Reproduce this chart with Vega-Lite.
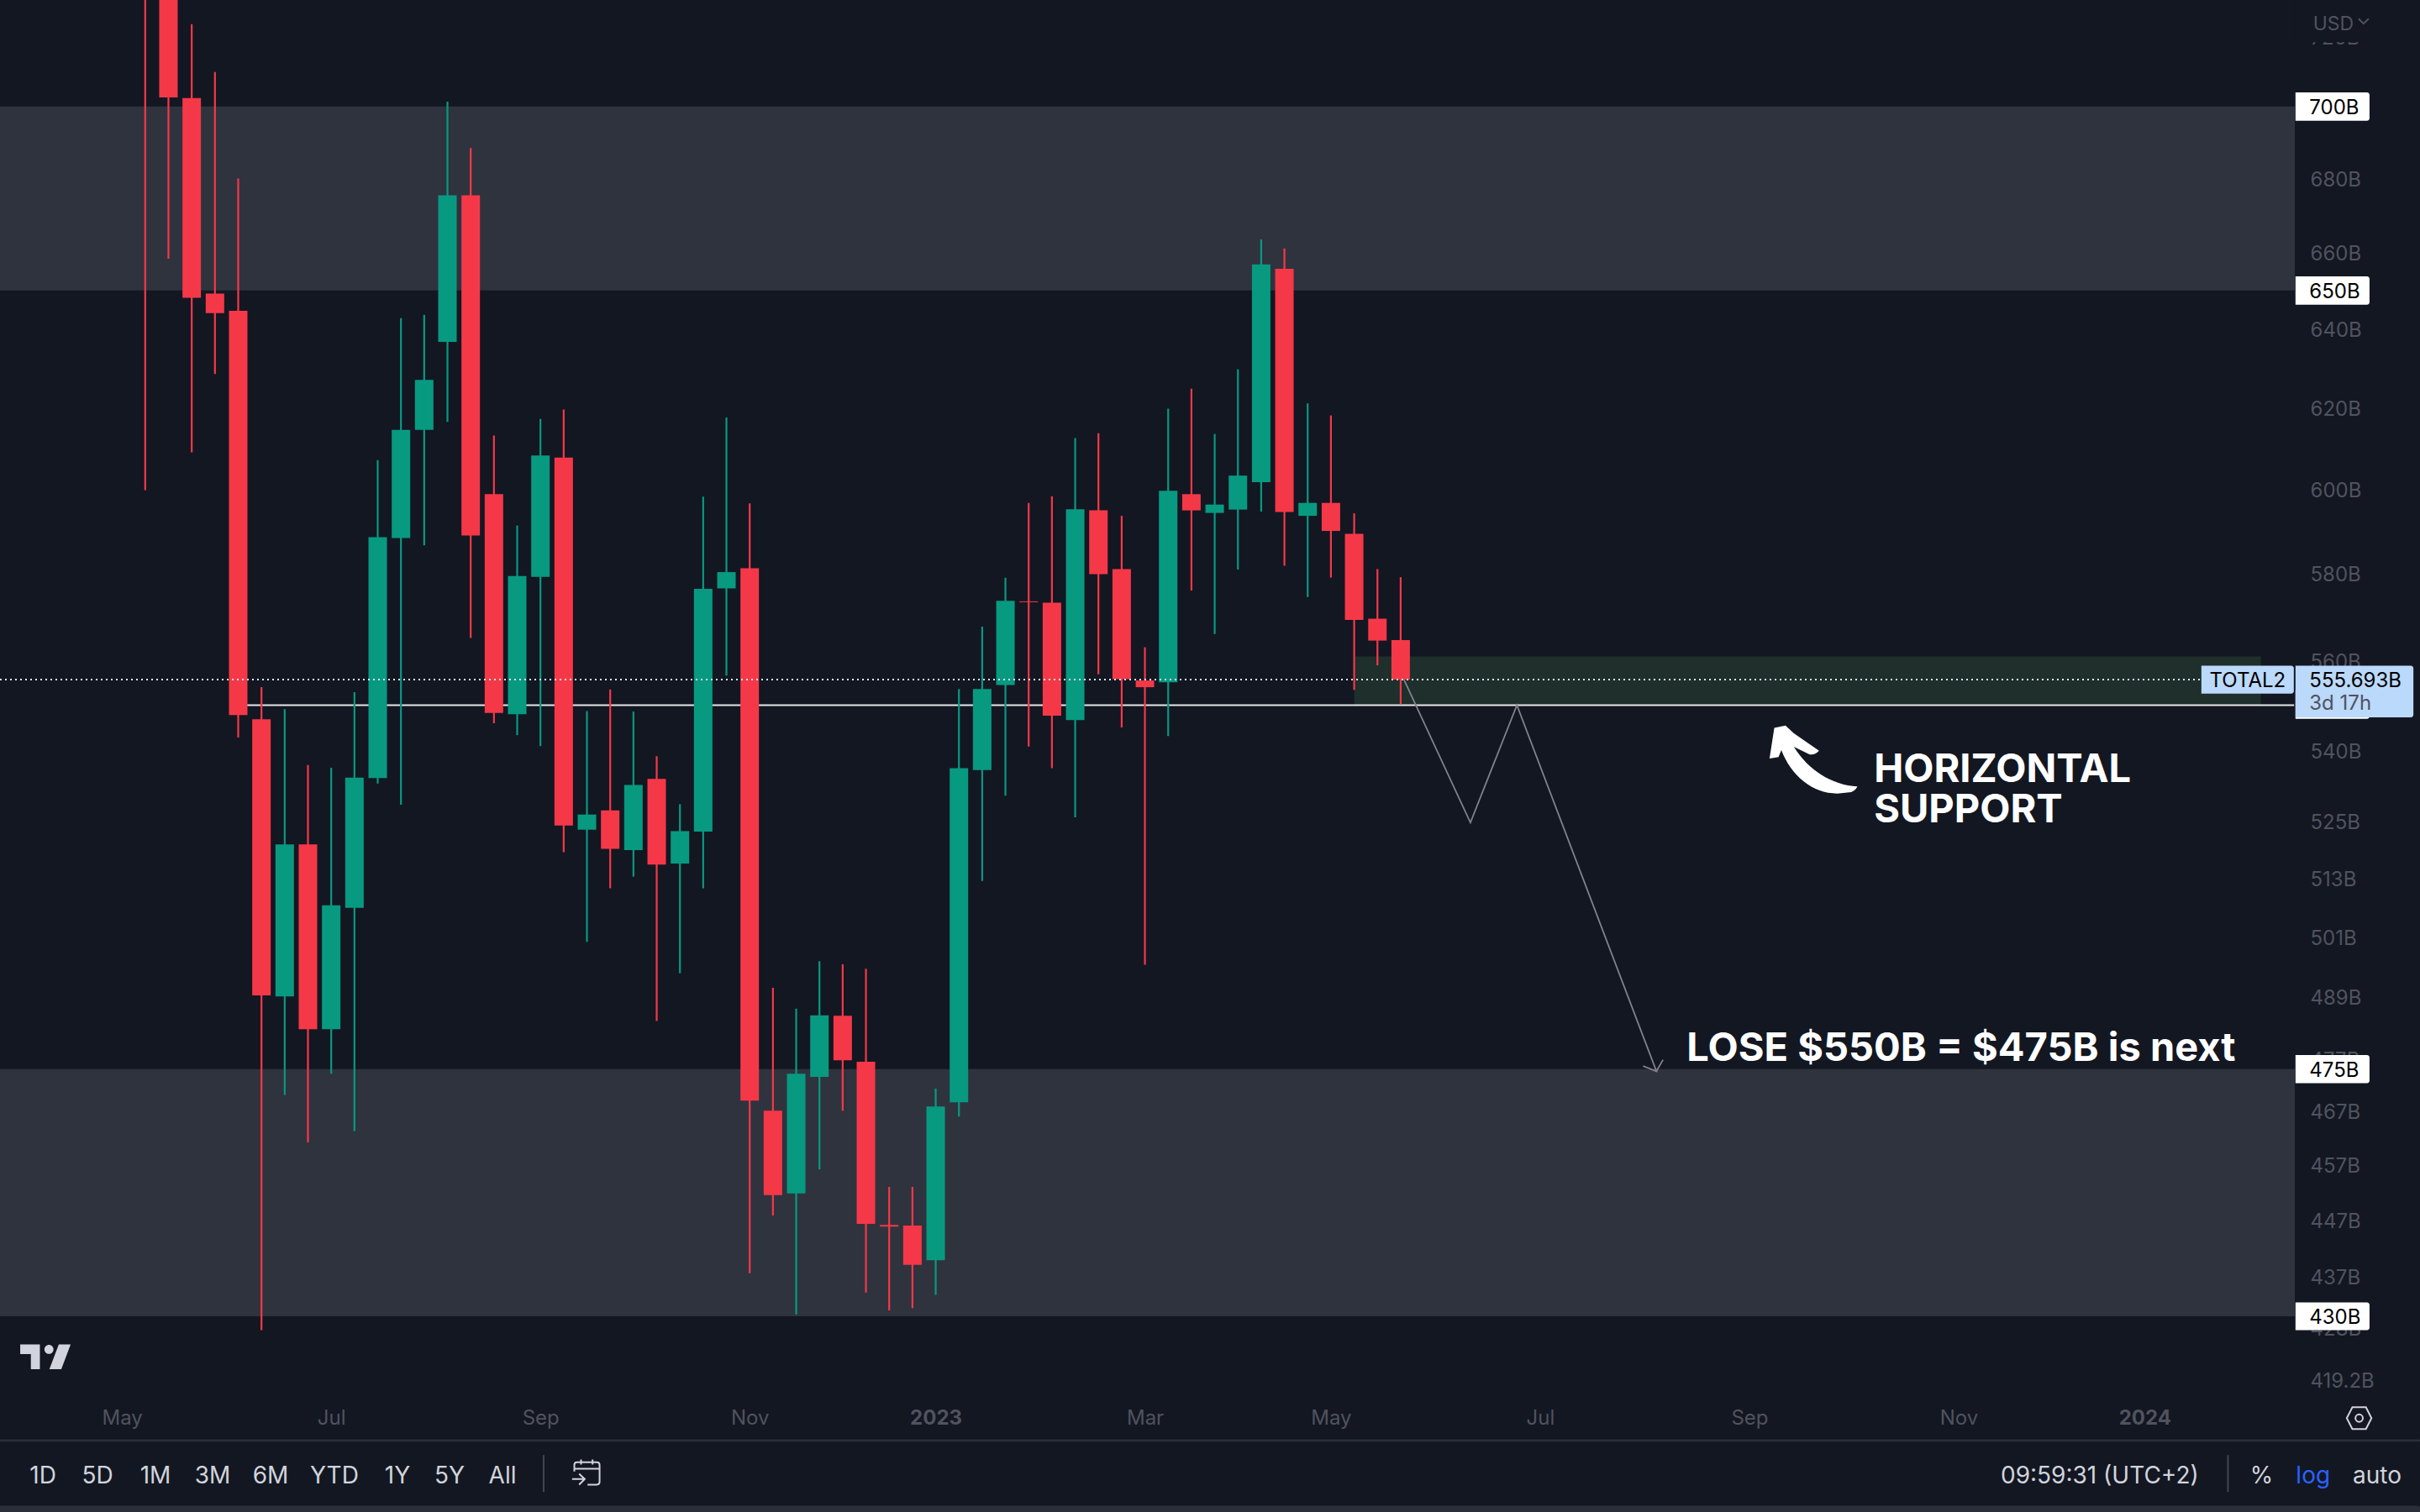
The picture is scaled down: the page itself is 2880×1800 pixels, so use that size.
{
  "$schema": "https://vega.github.io/schema/vega-lite/v6.json",
  "width": 2731,
  "height": 1665,
  "autosize": {"type": "none"},
  "padding": {"left": 0, "top": 0, "right": 149, "bottom": 135},
  "background": "#131722",
  "view": {"stroke": null},
  "config": {
    "axisY": {
      "orient": "right",
      "labelColor": "#50535e",
      "labelFont": "Inter",
      "labelFontSize": 24,
      "labelAlign": "left",
      "labelPadding": 18,
      "labelOffset": 2,
      "labelOverlap": false,
      "labelFlush": false,
      "labelBound": false,
      "grid": false,
      "domain": false,
      "ticks": false
    }
  },
  "datasets": {
    "candles": [
      {"date": "2022-05-09", "kind": "down", "open": 790, "high": 810, "low": 599.8, "close": 745},
      {"date": "2022-05-16", "kind": "down", "open": 745, "high": 760, "low": 658.4, "close": 702.6},
      {"date": "2022-05-23", "kind": "down", "open": 702.4, "high": 723.6, "low": 609, "close": 648.1},
      {"date": "2022-05-30", "kind": "down", "open": 649.2, "high": 709.8, "low": 628.5, "close": 644.1},
      {"date": "2022-06-06", "kind": "down", "open": 644.7, "high": 680, "low": 542.9, "close": 547.8},
      {"date": "2022-06-13", "kind": "down", "open": 546.9, "high": 554, "low": 427.6, "close": 489.3},
      {"date": "2022-06-20", "kind": "up", "open": 489.1, "high": 549.1, "low": 470.1, "close": 520},
      {"date": "2022-06-27", "kind": "down", "open": 520, "high": 536.9, "low": 461.2, "close": 482.7},
      {"date": "2022-07-04", "kind": "up", "open": 482.7, "high": 536.3, "low": 474.1, "close": 507.4},
      {"date": "2022-07-11", "kind": "up", "open": 506.9, "high": 552.9, "low": 463.3, "close": 534.2},
      {"date": "2022-07-18", "kind": "up", "open": 534.1, "high": 607.1, "low": 532.9, "close": 588.5},
      {"date": "2022-07-25", "kind": "up", "open": 588.3, "high": 642.8, "low": 528.4, "close": 614.5},
      {"date": "2022-08-01", "kind": "up", "open": 614.5, "high": 643.7, "low": 586.6, "close": 627},
      {"date": "2022-08-08", "kind": "up", "open": 636.7, "high": 701.4, "low": 616.5, "close": 675.4},
      {"date": "2022-08-15", "kind": "down", "open": 675.4, "high": 688.4, "low": 565.1, "close": 588.9},
      {"date": "2022-08-22", "kind": "down", "open": 598.8, "high": 613.1, "low": 546, "close": 548.3},
      {"date": "2022-08-29", "kind": "up", "open": 548, "high": 591.3, "low": 543.4, "close": 579.4},
      {"date": "2022-09-05", "kind": "up", "open": 579.2, "high": 617.2, "low": 541, "close": 608.2},
      {"date": "2022-09-12", "kind": "down", "open": 607.7, "high": 619.6, "low": 518.4, "close": 524},
      {"date": "2022-09-19", "kind": "up", "open": 523.1, "high": 548.7, "low": 500, "close": 526.3},
      {"date": "2022-09-26", "kind": "down", "open": 527.2, "high": 553.5, "low": 510.9, "close": 519.1},
      {"date": "2022-10-03", "kind": "up", "open": 518.8, "high": 548.6, "low": 513.3, "close": 532.6},
      {"date": "2022-10-10", "kind": "down", "open": 533.9, "high": 538.8, "low": 484.3, "close": 515.8},
      {"date": "2022-10-17", "kind": "up", "open": 516, "high": 528.5, "low": 493.7, "close": 522.8},
      {"date": "2022-10-24", "kind": "up", "open": 522.7, "high": 598.2, "low": 510.9, "close": 576.4},
      {"date": "2022-10-31", "kind": "up", "open": 576.5, "high": 617.6, "low": 556.6, "close": 580.3},
      {"date": "2022-11-07", "kind": "down", "open": 581.2, "high": 596.6, "low": 437.5, "close": 469},
      {"date": "2022-11-14", "kind": "down", "open": 467.1, "high": 490.8, "low": 447.8, "close": 451.5},
      {"date": "2022-11-21", "kind": "up", "open": 451.8, "high": 486.7, "low": 430.3, "close": 474.1},
      {"date": "2022-11-28", "kind": "up", "open": 473.5, "high": 496.1, "low": 456.2, "close": 485.4},
      {"date": "2022-12-05", "kind": "down", "open": 485.3, "high": 495.5, "low": 467.1, "close": 476.7},
      {"date": "2022-12-12", "kind": "down", "open": 476.4, "high": 494.6, "low": 434.1, "close": 446.3},
      {"date": "2022-12-19", "kind": "down", "open": 446.1, "high": 453, "low": 431, "close": 445.8},
      {"date": "2022-12-26", "kind": "down", "open": 446, "high": 453, "low": 431.4, "close": 439},
      {"date": "2023-01-02", "kind": "up", "open": 439.8, "high": 471.3, "low": 433.7, "close": 467.9},
      {"date": "2023-01-09", "kind": "up", "open": 468.7, "high": 553.6, "low": 466, "close": 536.2},
      {"date": "2023-01-16", "kind": "up", "open": 535.8, "high": 567.7, "low": 512.4, "close": 553.6},
      {"date": "2023-01-23", "kind": "up", "open": 554.5, "high": 579, "low": 530.3, "close": 573.6},
      {"date": "2023-01-30", "kind": "down", "open": 573.5, "high": 596.7, "low": 540.9, "close": 573.3},
      {"date": "2023-02-06", "kind": "down", "open": 573.2, "high": 598.3, "low": 536.2, "close": 547.7},
      {"date": "2023-02-13", "kind": "up", "open": 546.7, "high": 612.5, "low": 525.7, "close": 595.2},
      {"date": "2023-02-20", "kind": "down", "open": 594.9, "high": 613.7, "low": 556.9, "close": 579.8},
      {"date": "2023-02-27", "kind": "down", "open": 581, "high": 593.6, "low": 545.1, "close": 555.8},
      {"date": "2023-03-06", "kind": "down", "open": 555.5, "high": 563, "low": 495.4, "close": 554},
      {"date": "2023-03-13", "kind": "up", "open": 555.1, "high": 619.8, "low": 543.2, "close": 599.6},
      {"date": "2023-03-20", "kind": "down", "open": 598.8, "high": 624.8, "low": 576, "close": 594.9},
      {"date": "2023-03-27", "kind": "up", "open": 594.3, "high": 613.5, "low": 566, "close": 596.3},
      {"date": "2023-04-03", "kind": "up", "open": 595.1, "high": 629.7, "low": 580.9, "close": 603.3},
      {"date": "2023-04-10", "kind": "up", "open": 601.7, "high": 663.5, "low": 594.6, "close": 656.9},
      {"date": "2023-04-17", "kind": "down", "open": 655.7, "high": 661.1, "low": 581.8, "close": 594.5},
      {"date": "2023-04-24", "kind": "up", "open": 593.6, "high": 621.1, "low": 574.5, "close": 596.7},
      {"date": "2023-05-01", "kind": "down", "open": 596.7, "high": 618.1, "low": 579, "close": 590},
      {"date": "2023-05-08", "kind": "down", "open": 589.3, "high": 594.2, "low": 553.4, "close": 569.2},
      {"date": "2023-05-15", "kind": "down", "open": 569.5, "high": 581, "low": 558.9, "close": 564.5},
      {"date": "2023-05-22", "kind": "down", "open": 564.6, "high": 579.1, "low": 550.2, "close": 555.693}
    ],
    "zones": [
      {"kind": "zone", "date": "2022-03-26T06:43:00Z", "date2": "2024-02-15T05:00:00Z", "price": 700, "price2": 650},
      {"kind": "zone", "date": "2022-03-26T06:43:00Z", "date2": "2024-02-15T05:00:00Z", "price": 475, "price2": 430},
      {"kind": "demand", "date": "2023-05-08", "date2": "2024-02-05", "price": 560.9, "price2": 550}
    ],
    "path": [
      {"i": 1, "kind": "path", "date": "2023-05-23", "price": 555.693},
      {"i": 2, "kind": "path", "date": "2023-06-12", "price": 524.6},
      {"i": 3, "kind": "path", "date": "2023-06-26", "price": 550},
      {"i": 4, "kind": "path", "date": "2023-08-07", "price": 474.6},
      {"i": 5, "kind": "path", "date": "2023-08-03", "price": 475.6},
      {"i": 6, "kind": "path", "date": "2023-08-07", "price": 474.6},
      {"i": 7, "kind": "path", "date": "2023-08-09", "price": 476.8}
    ],
    "panels": [
      {"kind": "bg", "date": "2024-02-15T10:00:00Z", "date2": "2024-03-24", "price": 735, "price2": 718.4},
      {"kind": "box", "date": "2024-02-15T10:00:00Z", "date2": "2024-03-08T17:00:00Z", "price": 704, "price2": 696},
      {"kind": "box", "date": "2024-02-15T10:00:00Z", "date2": "2024-03-08T17:00:00Z", "price": 653.7, "price2": 646.3},
      {"kind": "box", "date": "2024-02-15T10:00:00Z", "date2": "2024-03-08T17:00:00Z", "price": 477.7, "price2": 472.3},
      {"kind": "box", "date": "2024-02-15T10:00:00Z", "date2": "2024-03-08T17:00:00Z", "price": 432.4, "price2": 427.6},
      {"kind": "box", "date": "2024-02-15T10:00:00Z", "date2": "2024-03-08T17:00:00Z", "price": 553.3, "price2": 547},
      {"kind": "tag", "date": "2024-02-15T10:00:00Z", "date2": "2024-03-21T22:00:00Z", "price": 558.8, "price2": 547.3},
      {"kind": "tag", "date": "2024-01-18T02:00:00Z", "date2": "2024-02-14T22:00:00Z", "price": 558.8, "price2": 552.55},
      {"kind": "strip", "date": "2022-03-26T06:43:00Z", "date2": "2024-03-24", "price": 409.2, "price2": 408.8},
      {"kind": "strip", "date": "2022-03-26T06:43:00Z", "date2": "2024-03-24", "price": 398.4, "price2": 396}
    ],
    "dividers": [
      {"kind": "divider", "date": "2022-09-05T23:00:00Z", "price": 406.6, "price2": 400.6},
      {"kind": "divider", "date": "2024-01-26T02:00:00Z", "price": 406.6, "price2": 400.6}
    ],
    "labels": [
      {"style": "toolbar", "kind": "ui", "text": "1D", "date": "2022-04-08T05:00:00Z", "price": 403.5},
      {"style": "toolbar", "kind": "ui", "text": "5D", "date": "2022-04-24T15:00:00Z", "price": 403.5},
      {"style": "toolbar", "kind": "ui", "text": "1M", "date": "2022-05-12T02:00:00Z", "price": 403.5},
      {"style": "toolbar", "kind": "ui", "text": "3M", "date": "2022-05-29T07:00:00Z", "price": 403.5},
      {"style": "toolbar", "kind": "ui", "text": "6M", "date": "2022-06-15T18:00:00Z", "price": 403.5},
      {"style": "toolbar", "kind": "ui", "text": "YTD", "date": "2022-07-04T23:00:00Z", "price": 403.5},
      {"style": "toolbar", "kind": "ui", "text": "1Y", "date": "2022-07-23T23:00:00Z", "price": 403.5},
      {"style": "toolbar", "kind": "ui", "text": "5Y", "date": "2022-08-08T15:00:00Z", "price": 403.5},
      {"style": "toolbar", "kind": "ui", "text": "All", "date": "2022-08-24T14:00:00Z", "price": 403.5},
      {"style": "toolbar", "kind": "ui", "text": "%", "date": "2024-02-05T05:00:00Z", "price": 403.5},
      {"style": "toolbar", "kind": "accent", "text": "log", "date": "2024-02-20T17:00:00Z", "price": 403.5},
      {"style": "toolbar", "kind": "ui", "text": "auto", "date": "2024-03-11", "price": 403.5},
      {"style": "time", "kind": "ui", "text": "09:59:31 (UTC+2)", "date": "2024-01-17T07:00:00Z", "price": 403.5},
      {"style": "usd", "kind": "muted", "text": "USD", "date": "2024-02-20T17:00:00Z", "price": 724},
      {"style": "tag", "kind": "ink", "text": "700B", "date": "2024-02-19T14:00:00Z", "price": 700},
      {"style": "tag", "kind": "ink", "text": "650B", "date": "2024-02-19T14:00:00Z", "price": 650},
      {"style": "tag", "kind": "ink", "text": "475B", "date": "2024-02-19T14:00:00Z", "price": 475},
      {"style": "tag", "kind": "ink", "text": "430B", "date": "2024-02-19T14:00:00Z", "price": 430},
      {"style": "tag", "kind": "ink", "text": "555.693B", "date": "2024-02-19T14:00:00Z", "price": 555.693},
      {"style": "tag", "kind": "muted", "text": "3d 17h", "date": "2024-02-19T14:00:00Z", "price": 550.6},
      {"style": "symbol", "kind": "ink", "text": "TOTAL2", "date": "2024-02-01", "price": 555.693},
      {"style": "note", "kind": "white", "text": "HORIZONTAL", "date": "2023-10-11T12:00:00Z", "price": 535.8},
      {"style": "note", "kind": "white", "text": "SUPPORT", "date": "2023-10-11T12:00:00Z", "price": 527.1},
      {"style": "note", "kind": "white", "text": "LOSE $550B = $475B is next", "date": "2023-08-16T03:00:00Z", "price": 478.9}
    ]
  },
  "encoding": {
    "x": {
      "field": "date",
      "type": "temporal",
      "title": null,
      "scale": {"type": "utc", "domain": ["2022-03-26T06:43:00Z", "2024-02-15T05:00:00Z"], "nice": false, "padding": 0},
      "axis": {
        "orient": "bottom",
        "values": ["2022-05-02", "2022-07-04", "2022-09-05", "2022-11-07", "2023-01-02", "2023-03-06", "2023-05-01", "2023-07-03", "2023-09-04", "2023-11-06", "2024-01-01"],
        "labelExpr": "utcmonth(datum.value) == 0 ? utcFormat(datum.value, '%Y') : utcFormat(datum.value, '%b')",
        "labelFontWeight": {"condition": {"test": "utcmonth(datum.value) == 0", "value": "bold"}, "value": "normal"},
        "labelColor": "#50535e",
        "labelFont": "Inter",
        "labelFontSize": 24,
        "labelBaseline": "middle",
        "labelPadding": 23,
        "labelOverlap": false,
        "labelFlush": false,
        "labelBound": false,
        "grid": false,
        "domain": false,
        "ticks": false
      }
    },
    "y": {
      "field": "price",
      "type": "quantitative",
      "title": null,
      "scale": {"type": "log", "domain": [415.96, 730.7], "nice": false},
      "axis": {
        "values": [720, 680, 660, 640, 620, 600, 580, 560, 540, 525, 513, 501, 489, 477, 467, 457, 447, 437, 428, 419.2],
        "labelExpr": "datum.value + 'B'"
      }
    },
    "color": {
      "field": "kind",
      "type": "nominal",
      "legend": null,
      "scale": {
        "domain": ["up", "down", "zone", "demand", "support", "spot", "path", "bg", "box", "tag", "strip", "divider", "ui", "accent", "muted", "ink", "white"],
        "range": ["#089981", "#f53848", "#2f333e", "#1e2f2c", "#e6e7ea", "#dbe9fb", "#80838c", "#131722", "#ffffff", "#bbd9fb", "#2a2e39", "#434651", "#d1d4dc", "#2962ff", "#50535e", "#000000", "#ffffff"]
      }
    }
  },
  "layer": [
    {
      "data": {"name": "zones", "format": {"parse": {"date2": "date"}}},
      "mark": {"type": "rect"},
      "encoding": {"x2": {"field": "date2"}, "y2": {"field": "price2"}}
    },
    {
      "data": {"values": [{"kind": "support", "date": "2022-06-06", "date2": "2024-02-15", "price": 550}], "format": {"parse": {"date2": "date"}}},
      "mark": {"type": "rule", "strokeWidth": 2},
      "encoding": {"x2": {"field": "date2"}}
    },
    {
      "data": {"name": "candles"},
      "mark": {"type": "rule", "strokeWidth": 2.2},
      "encoding": {
        "y": {
          "field": "low", "type": "quantitative", "title": null,
          "scale": {"type": "log", "domain": [415.96, 730.7], "nice": false},
          "axis": {"values": [720, 680, 660, 640, 620, 600, 580, 560, 540, 525, 513, 501, 489, 477, 467, 457, 447, 437, 428, 419.2], "labelExpr": "datum.value + 'B'"}
        },
        "y2": {"field": "high"}
      }
    },
    {
      "data": {"name": "candles"},
      "mark": {"type": "bar", "size": 22},
      "encoding": {
        "y": {
          "field": "open", "type": "quantitative", "title": null,
          "scale": {"type": "log", "domain": [415.96, 730.7], "nice": false},
          "axis": {"values": [720, 680, 660, 640, 620, 600, 580, 560, 540, 525, 513, 501, 489, 477, 467, 457, 447, 437, 428, 419.2], "labelExpr": "datum.value + 'B'"}
        },
        "y2": {"field": "close"}
      }
    },
    {
      "data": {"values": [{"kind": "spot", "date": "2022-03-26T06:43:00Z", "date2": "2024-01-18T02:00:00Z", "price": 555.693}], "format": {"parse": {"date2": "date"}}},
      "mark": {"type": "rule", "strokeWidth": 2, "strokeDash": [2, 4]},
      "encoding": {"x2": {"field": "date2"}}
    },
    {
      "data": {"name": "path"},
      "mark": {"type": "line", "strokeWidth": 1.8},
      "encoding": {"order": {"field": "i"}}
    },
    {
      "data": {"name": "panels", "format": {"parse": {"date2": "date"}}},
      "mark": {"type": "rect", "cornerRadiusTopRight": 3, "cornerRadiusBottomRight": 3},
      "encoding": {"x2": {"field": "date2"}, "y2": {"field": "price2"}}
    },
    {
      "data": {"name": "dividers"},
      "mark": {"type": "rule", "strokeWidth": 2},
      "encoding": {"y2": {"field": "price2"}}
    },
    {
      "data": {"name": "labels"},
      "transform": [{"filter": "datum.style == 'toolbar'"}],
      "mark": {"type": "text", "font": "Inter", "fontSize": 28, "align": "center", "baseline": "middle", "dy": 3},
      "encoding": {"text": {"field": "text"}}
    },
    {
      "data": {"name": "labels"},
      "transform": [{"filter": "datum.style == 'time'"}],
      "mark": {"type": "text", "font": "Inter", "fontSize": 28, "align": "right", "baseline": "middle", "dy": 3},
      "encoding": {"text": {"field": "text"}}
    },
    {
      "data": {"name": "labels"},
      "transform": [{"filter": "datum.style == 'usd'"}],
      "mark": {"type": "text", "font": "Inter", "fontSize": 23, "align": "left", "baseline": "middle", "dy": 2},
      "encoding": {"text": {"field": "text"}}
    },
    {
      "data": {"name": "labels"},
      "transform": [{"filter": "datum.style == 'tag'"}],
      "mark": {"type": "text", "font": "Inter", "fontSize": 24, "align": "left", "baseline": "middle", "dy": 2},
      "encoding": {"text": {"field": "text"}}
    },
    {
      "data": {"name": "labels"},
      "transform": [{"filter": "datum.style == 'symbol'"}],
      "mark": {"type": "text", "font": "Inter", "fontSize": 24, "align": "center", "baseline": "middle", "dy": 2},
      "encoding": {"text": {"field": "text"}}
    },
    {
      "data": {"name": "labels"},
      "transform": [{"filter": "datum.style == 'note'"}],
      "mark": {"type": "text", "font": "Inter", "fontSize": 47, "fontWeight": 700, "align": "left", "baseline": "middle"},
      "encoding": {"text": {"field": "text"}}
    },
    {
      "data": {"values": [{"kind": "white", "date": "2023-09-23T07:00:00Z", "price": 538}]},
      "mark": {
        "type": "point", "filled": true, "opacity": 1, "size": 10941,
        "shape": "M-0.892,-0.732L-0.637,-0.783L-0.446,-0.605L0.127,-0.21Q0.02,-0.1 -0.096,-0.127L-0.446,-0.299C-0.127,0.223 0.414,0.573 1,0.605Q0.95,0.7 0.86,0.732L0.541,0.764C-0.032,0.764 -0.51,0.35 -0.732,-0.223L-0.796,-0.064L-1,-0.032Z"
      }
    },
    {
      "data": {"values": [{"kind": "ui", "date": "2022-04-08T23:00:00Z", "price": 423}]},
      "mark": {
        "type": "point", "filled": true, "opacity": 1, "size": 3600,
        "shape": "M-1,-0.5L-0.22,-0.5L-0.22,0.49L-0.577,0.49L-0.577,-0.11L-1,-0.11ZM-0.04,-0.3a0.18,0.18 0 1,0 0.36,0a0.18,0.18 0 1,0 -0.36,0ZM0.53,-0.5L1,-0.5L0.63,0.49L0.157,0.49Z"
      }
    },
    {
      "data": {"values": [{"kind": "ui", "date": "2022-09-18T18:00:00Z", "price": 403.7}]},
      "mark": {
        "type": "point", "filled": false, "opacity": 1, "size": 1115, "strokeWidth": 2,
        "shape": "M-0.84,-0.1L-0.84,-0.56Q-0.84,-0.76 -0.64,-0.76L0.76,-0.76Q0.96,-0.76 0.96,-0.56L0.96,0.64Q0.96,0.84 0.76,0.84L0.1,0.84M-0.84,-0.3L0.96,-0.3M-0.36,-0.96L-0.36,-0.6M0.46,-0.96L0.46,-0.6M-1,0.44L-0.1,0.44M-0.5,0.06L-0.1,0.44L-0.5,0.84"
      }
    },
    {
      "data": {"values": [{"kind": "ui", "date": "2024-03-05T14:00:00Z", "price": 412.7}]},
      "mark": {
        "type": "point", "filled": false, "opacity": 1, "size": 864, "strokeWidth": 2,
        "shape": "M-1,0L-0.55,-0.88L0.55,-0.88L1,0L0.55,0.88L-0.55,0.88ZM-0.3,0a0.3,0.3 0 1,0 0.6,0a0.3,0.3 0 1,0 -0.6,0Z"
      }
    },
    {
      "data": {"values": [{"kind": "muted", "date": "2024-03-06T22:00:00Z", "price": 724.5}]},
      "mark": {
        "type": "point", "filled": false, "opacity": 1, "size": 144, "strokeWidth": 2,
        "shape": "M-1,-0.5L0,0.5L1,-0.5"
      }
    }
  ]
}
